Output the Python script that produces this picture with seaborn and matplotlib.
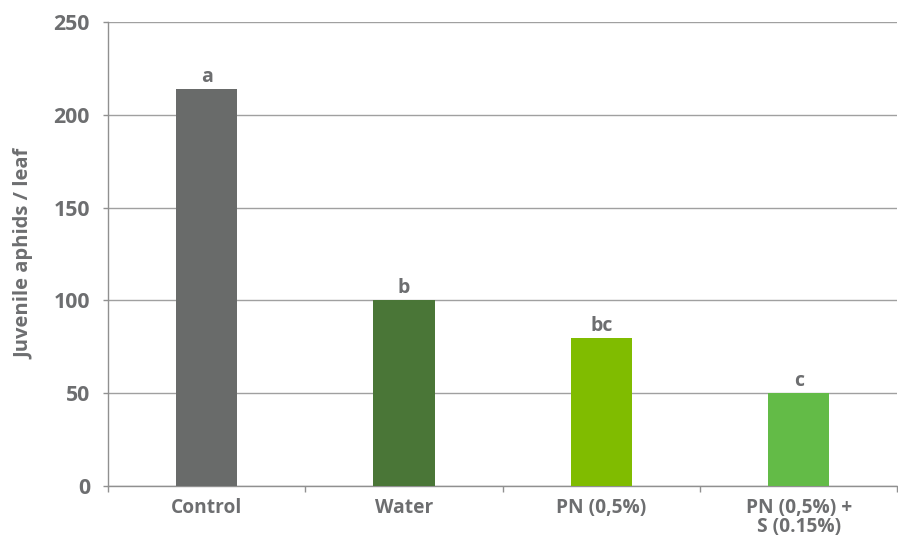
import matplotlib
matplotlib.use("Agg")
import matplotlib.pyplot as plt
import seaborn as sns
import pandas as pd

# values
treatments = ["Control", "Water", "PN (0,5%)", "PN (0,5%) +\nS (0.15%)"]
aphids = [214, 100, 79.5, 50]
letters = ["a", "b", "bc", "c"]
bar_colors = ["#696b6a", "#4a7637", "#80bc00", "#63bb47"]
yticks = [0, 50, 100, 150, 200, 250]

text_col = "#6d6e70"

sns.set_theme(style="white")
plt.rcParams["font.family"] = ["Open Sans", "DejaVu Sans"]

df = pd.DataFrame({"treatment": treatments, "aphids": aphids})

fig = plt.figure(figsize=(8.98, 5.37), dpi=100)
ax = fig.add_axes([0.1203, 0.095, 0.879, 0.864])

sns.barplot(data=df, x="treatment", y="aphids", hue="treatment",
            palette=bar_colors, width=0.31, legend=False, ax=ax,
            saturation=1, linewidth=0, zorder=3)

ax.set_ylim(0, 250)
ax.set_xlim(-0.5, len(treatments) - 0.5)
ax.set_yticks(yticks)
ax.set_yticklabels([str(t) for t in yticks], fontsize=15.3,
                   fontweight="bold", color=text_col)
ax.yaxis.grid(True, color="#a0a0a0", linewidth=1, zorder=0)
ax.set_axisbelow(True)

# category boundary ticks on x axis
ax.set_xticks([i - 0.5 for i in range(len(treatments) + 1)], minor=True)
ax.tick_params(axis="x", which="minor", length=4.5, width=1, color="#909090",
               direction="out", bottom=True)
ax.tick_params(axis="x", which="major", length=0, pad=8.5)
ax.tick_params(axis="y", length=3.6, width=1, color="#909090", left=True, pad=9.4)
ax.set_xticks(range(len(treatments)))
ax.set_xticklabels(treatments, fontsize=13.8, fontweight="bold",
                   color=text_col, linespacing=0.95, va="top")

for side in ["top", "right"]:
    ax.spines[side].set_visible(False)
for side in ["left", "bottom"]:
    ax.spines[side].set_color("#909090")
    ax.spines[side].set_linewidth(1)

for i, (v, lab) in enumerate(zip(aphids, letters)):
    ax.text(i, v + 1.2, lab, ha="center", va="bottom", fontsize=14,
            fontweight="bold", color=text_col)

ax.set_xlabel("")
ax.set_ylabel("Juvenile aphids / leaf", fontsize=14.5, fontweight="bold",
              color=text_col, labelpad=14)

fig.savefig("out.png", dpi=100)
